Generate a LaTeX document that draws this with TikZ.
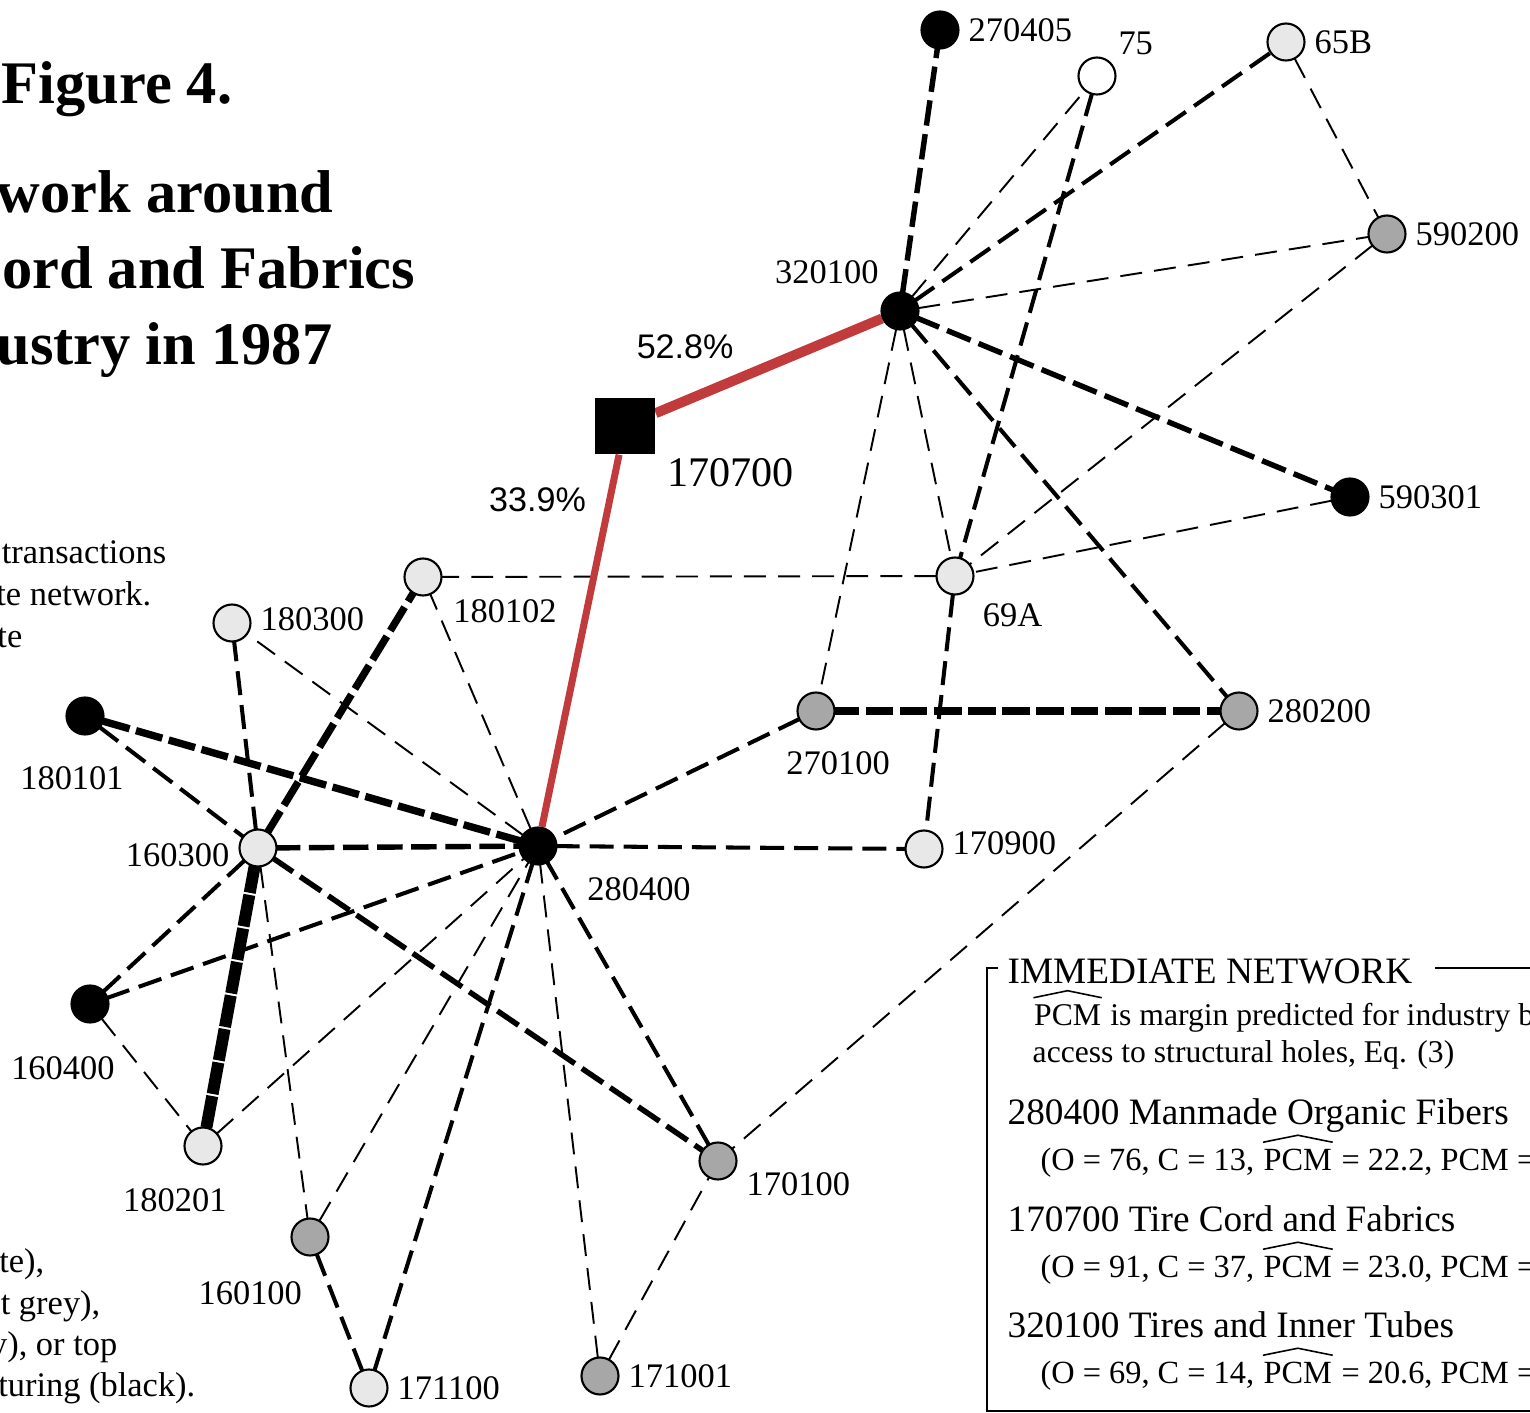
\documentclass[tikz,border=0pt]{standalone}
\usepackage{fontspec}
\setmainfont{Liberation Serif}
\newfontfamily\pctfont{Liberation Sans}
\usepackage{tikz}
\usetikzlibrary{backgrounds}

\definecolor{tirered}{RGB}{193,58,60}
\definecolor{lightgrey}{RGB}{232,232,232}
\definecolor{midgrey}{RGB}{167,167,167}
% PCM with a wide hat over it
\newcommand\pcmhat{\tikz[baseline=(pcmw.base)]{%
  \node[inner sep=0pt, anchor=base] (pcmw) {PCM};
  \draw[line width=0.45pt] ([yshift=1.6pt]pcmw.north west) -- ([yshift=3.6pt]pcmw.north) -- ([yshift=1.6pt]pcmw.north east);}}

\begin{document}
\begin{tikzpicture}[x=0.1mm, y=-0.1mm, label distance=1.4pt,
    ind/.style={circle, draw, line width=0.6pt, minimum size=3.7mm, inner sep=0pt},
    blk/.style={ind, fill=black},
    wht/.style={ind, fill=white},
    lgr/.style={ind, fill=lightgrey},
    mgr/.style={ind, fill=midgrey},
    lbl/.style={font=\fontsize{9.8}{11}\selectfont, inner sep=1pt},
    pct/.style={font=\pctfont\fontsize{9.7}{11}\selectfont, text=black, inner sep=1pt},
    ttl/.style={font=\fontsize{17.2}{20}\selectfont\bfseries, inner sep=0pt, anchor=base east},
    captxt/.style={font=\fontsize{9.8}{11}\selectfont, inner sep=0pt, anchor=base east},
    lgtxt/.style={inner sep=0pt, anchor=base west},
    lghead/.style={lgtxt, font=\fontsize{10.6}{12}\selectfont},
    lgsub/.style={lgtxt, font=\fontsize{9.2}{11}\selectfont},
    lgnote/.style={lgtxt, font=\fontsize{9}{10}\selectfont},
    tie/.style={line cap=rect, dash pattern=on 5.7pt off 4pt},
    ethin/.style={tie, line width=0.55pt},
    emed/.style={tie, line width=1.15pt},
    ethick/.style={tie, line width=1.55pt},
    eheavy/.style={tie, line width=2.1pt},
    ehuge/.style={tie, line width=3.4pt}]
\useasboundingbox (0,0) rectangle (1530,1413);

% title and caption pieces
\node[ttl] (fig) at (233,103) {Figure 4.};
\node[ttl] (ttlA) at (334,212) {work around};
\node[ttl] (ttlB) at (416,288) {ord and Fabrics};
\node[ttl] (ttlC) at (333,364) {ustry in 1987};
\node[captxt] (capA) at (167,563) {transactions};
\node[captxt] (capB) at (152,605) {te network.};
\node[captxt] (capC) at (23,647) {te};
\node[captxt] (capD) at (45,1272) {te),};
\node[captxt] (capE) at (101,1314) {t grey),};
\node[captxt] (capF) at (118,1355) {y), or top};
\node[captxt] (capG) at (196,1396) {turing (black).};

% industries
\node[blk, label={[lbl]right:270405}] (n270405) at (940,30) {};
\node[wht, label={[lbl]above right:75}] (n75) at (1097,76) {};
\node[lgr, label={[lbl]right:65B}] (n65B) at (1286,42) {};
\node[mgr, label={[lbl]right:590200}] (n590200) at (1387,234) {};
\node[blk, label={[lbl, yshift=1.7pt]above left:320100}] (n320100) at (900,311) {};
\node[blk, label={[lbl]right:590301}] (n590301) at (1350,497) {};
\node[lgr, label={[lbl, label distance=4pt]below right:69A}] (n69A) at (955,576) {};
\node[rectangle, fill=black, minimum width=6mm, minimum height=5.6mm,
      label={[lbl, font=\fontsize{12}{14}\selectfont, label distance=0pt, xshift=2.7pt]below right:170700}] (n170700) at (625,426) {};
\node[lgr, label={[lbl, label distance=1.7pt, xshift=2.3pt]below right:180102}] (n180102) at (423,577) {};
\node[lgr, label={[lbl, yshift=1.2pt]right:180300}] (n180300) at (232,623) {};
\node[blk, label={[lbl, label distance=7.7pt, xshift=-3.7pt]below:180101}] (n180101) at (85,716) {};
\node[mgr, label={[lbl, label distance=4.8pt, xshift=6.3pt]below:270100}] (n270100) at (816,711) {};
\node[mgr, label={[lbl]right:280200}] (n280200) at (1239,711) {};
\node[lgr, label={[lbl, yshift=-2pt]left:160300}] (n160300) at (258,848) {};
\node[blk, label={[lbl, label distance=5.4pt, xshift=5.1pt]below right:280400}] (n280400) at (538,846) {};
\node[lgr, label={[lbl, yshift=1.7pt]right:170900}] (n170900) at (924,849) {};
\node[blk, label={[lbl, label distance=8.2pt, xshift=-7.7pt]below:160400}] (n160400) at (90,1004) {};
\node[lgr, label={[lbl, label distance=5.3pt, xshift=-8pt]below:180201}] (n180201) at (203,1146) {};
\node[mgr, label={[lbl, yshift=-6.5pt]right:170100}] (n170100) at (718,1161) {};
\node[mgr, label={[lbl, label distance=5.9pt, xshift=-17pt]below:160100}] (n160100) at (310,1237) {};
\node[lgr, label={[lbl]right:171100}] (n171100) at (369,1388) {};
\node[mgr, label={[lbl]right:171001}] (n171001) at (600,1376) {};

\begin{pgfonlayer}{background}
% transactions
\draw[ethick] (n320100) -- (n270405);
\draw[ethin] (n320100) -- (n75);
\draw[emed] (n320100) -- (n65B);
\draw[ethin] (n320100) -- (n590200);
\draw[ethick] (n320100) -- (n590301);
\draw[emed] (n320100) -- (n280200);
\draw[ethin] (n320100) -- (n69A);
\draw[ethin] (n320100) -- (n270100);
\draw[emed] (n75) -- (n69A);
\draw[ethin] (n65B) -- (n590200);
\draw[ethin] (n590200) -- (n69A);
\draw[ethin] (n590301) -- (n69A);
\draw[ethin] (n69A) -- (n180102);
\draw[emed] (n69A) -- (n170900);
\draw[eheavy] (n270100) -- (n280200);
\draw[emed] (n270100) -- (n280400);
\draw[ethin] (n280200) -- (n170100);
\draw[emed] (n280400) -- (n170900);
\draw[ethin] (n280400) -- (n180102);
\draw[ethin] (n280400) -- (n180300);
\draw[eheavy] (n280400) -- (n180101);
\draw[emed] (n180101) -- (n160300);
\draw[ethick] (n160300) -- (n280400);
\draw[eheavy] (n160300) -- (n180102);
\draw[ehuge] (n160300) -- (n180201);
\draw[emed] (n160300) -- (n160400);
\draw[ethick] (n160300) -- (n170100);
\draw[ethin] (n160300) -- (n160100);
\draw[emed] (n160300) -- (n180300);
\draw[emed] (n160400) -- (n280400);
\draw[ethin] (n160400) -- (n180201);
\draw[ethin] (n180201) -- (n280400);
\draw[ethin] (n160100) -- (n280400);
\draw[emed] (n160100) -- (n171100);
\draw[emed] (n171100) -- (n280400);
\draw[ethin] (n171001) -- (n280400);
\draw[ethin] (n171001) -- (n170100);
\draw[emed] (n170100) -- (n280400);
% tire cord ties
\draw[tirered, line width=2.85pt] (n170700) -- node[pct, pos=0.13, above=9.4pt] (p528) {52.8\%} (n320100);
\draw[tirered, line width=2pt] (n170700) -- node[pct, pos=0.12, left=4.8pt] (p339) {33.9\%} (n280400);
\end{pgfonlayer}

% immediate network box
\node[lghead] (lgtitle) at (1007,983) {IMMEDIATE NETWORK};
\draw[line width=0.7pt] (998,968) -- (987,968) -- (987,1411) -- (1530,1411);
\draw[line width=0.7pt] (1435,968) -- (1530,968);
\node[lgnote] (lgA) at (1032,1025) {\pcmhat{} is margin predicted for industry b};
\node[lgnote] (lgB) at (1032,1062) {access to structural holes, Eq. (3)};
\node[lghead] (lgC) at (1007,1124) {280400 Manmade Organic Fibers};
\node[lgsub] (lgD) at (1040,1170) {(O = 76, C = 13, \pcmhat{} = 22.2, PCM =};
\node[lghead] (lgE) at (1007,1231) {170700 Tire Cord and Fabrics};
\node[lgsub] (lgF) at (1040,1277) {(O = 91, C = 37, \pcmhat{} = 23.0, PCM =};
\node[lghead] (lgG) at (1007,1337) {320100 Tires and Inner Tubes};
\node[lgsub] (lgH) at (1040,1383) {(O = 69, C = 14, \pcmhat{} = 20.6, PCM =};
\end{tikzpicture}
\end{document}
